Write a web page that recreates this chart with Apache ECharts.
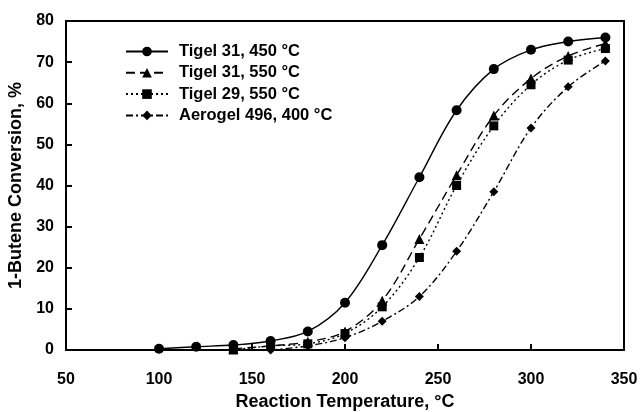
<!DOCTYPE html>
<html>
<head>
<meta charset="utf-8">
<script src="https://cdn.jsdelivr.net/npm/echarts@6/dist/echarts.min.js"></script>
<style>
  html, body { margin: 0; padding: 0; background: #fff; }
  #main { width: 641px; height: 412px; }
</style>
</head>
<body>
<div id="main"></div>
<script>
var myChart = echarts.init(document.getElementById("main"));

// temperatures (°C) and conversion (%)
var temp31a = [100, 120, 140, 160, 180, 200, 220, 240, 260, 280, 300, 320, 340];
var conv31a = [0.3, 0.8, 1.2, 2.2, 4.5, 11.5, 25.5, 42, 58.3, 68.3, 73, 75, 76];
var temp31b = [140, 160, 180, 200, 220, 240, 260, 280, 300, 320, 340];
var conv31b = [0.3, 1.0, 2.0, 4.5, 12, 27, 42.5, 57, 66, 71.5, 74.5];
var temp29 = [140, 160, 180, 200, 220, 240, 260, 280, 300, 320, 340];
var conv29 = [0, 1.0, 1.5, 4.0, 10.5, 22.5, 40, 54.5, 64.5, 70.5, 73.3];
var tempAero = [160, 180, 200, 220, 240, 260, 280, 300, 320, 340];
var convAero = [0, 1.0, 3.0, 7.0, 13, 24, 38.5, 54, 64, 70.3];

var names = ['Tigel 31, 450 °C', 'Tigel 31, 550 °C', 'Tigel 29, 550 °C', 'Aerogel 496, 400 °C'];

function pairs(xs, ys) {
    return xs.map(function (x, i) { return [x, ys[i]]; });
}

var font = 'Arial, "Liberation Sans", sans-serif';
var tickText = { fontSize: 16, fontWeight: 'bold', color: '#000', fontFamily: font };
var nameText = { fontSize: 18, fontWeight: 'bold', color: '#000', fontFamily: font };

function mkSeries(name, data, symbol, size, type) {
    return {
        name: name,
        type: 'line',
        data: data,
        smooth: 0.35,
        symbol: symbol,
        symbolSize: size,
        itemStyle: { color: '#000' },
        lineStyle: { color: '#000', width: 1.4, type: type },
        z: 3
    };
}

var option = {
    backgroundColor: '#fff',
    animation: false,
    grid: {
        left: 66, right: 17, top: 21, bottom: 62,
        outerBoundsMode: 'none',     // keep the plot box fixed
        show: true, borderColor: '#000', borderWidth: 2
    },
    legend: {
        data: names,
        orient: 'vertical',
        left: 120,
        top: 38,
        itemWidth: 42,
        itemHeight: 12,
        itemGap: 4.3,
        textStyle: { fontSize: 16.5, fontWeight: 'bold', color: '#000', fontFamily: font, padding: [0, 0, 0, 6] }
    },
    xAxis: {
        type: 'value',
        min: 50, max: 350, interval: 50,
        name: 'Reaction Temperature, °C',
        nameLocation: 'middle',
        nameGap: 39,
        nameTextStyle: nameText,
        axisLine: { lineStyle: { color: '#000', width: 2 } },
        axisTick: { inside: true, length: 6, lineStyle: { color: '#000', width: 2 } },
        axisLabel: Object.assign({ margin: 22 }, tickText),
        splitLine: { show: false }
    },
    yAxis: {
        type: 'value',
        min: 0, max: 80, interval: 10,
        name: '1-Butene Conversion, %',
        nameLocation: 'middle',
        nameGap: 36,
        nameTextStyle: nameText,
        axisLine: { lineStyle: { color: '#000', width: 2 } },
        axisTick: { inside: true, length: 6, lineStyle: { color: '#000', width: 2 } },
        axisLabel: Object.assign({ margin: 12 }, tickText),
        splitLine: { show: false }
    },
    series: [
        mkSeries(names[0], pairs(temp31a, conv31a), 'circle', 10, 'solid'),
        mkSeries(names[1], pairs(temp31b, conv31b), 'triangle', 10, [9, 5]),
        mkSeries(names[2], pairs(temp29, conv29), 'rect', 9, [2, 3]),
        mkSeries(names[3], pairs(tempAero, convAero), 'diamond', 9, [7, 3, 2, 3])
    ]
};

myChart.setOption(option);
</script>
</body>
</html>
